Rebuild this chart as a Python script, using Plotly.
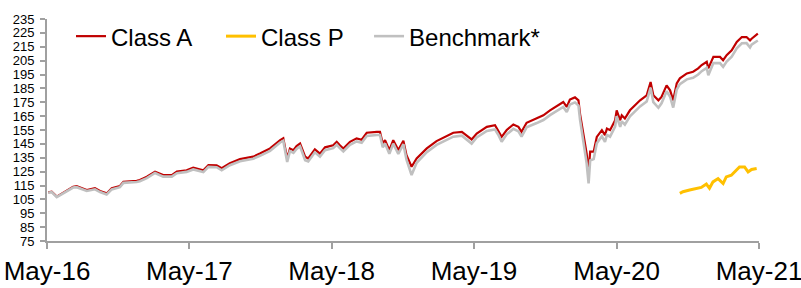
import plotly.graph_objects as go

dates_main = [
    "2016-05-04", "2016-05-13", "2016-05-26", "2016-06-16", "2016-07-07", "2016-07-16",
    "2016-08-11", "2016-09-01", "2016-09-14", "2016-10-01", "2016-10-14", "2016-11-04",
    "2016-11-13", "2016-12-17", "2016-12-25", "2017-01-12", "2017-02-02", "2017-02-23",
    "2017-03-17", "2017-03-30", "2017-04-24", "2017-05-11", "2017-06-06", "2017-06-19",
    "2017-07-10", "2017-07-23", "2017-08-13", "2017-09-08", "2017-10-12", "2017-10-29",
    "2017-11-24", "2017-12-20", "2017-12-28", "2018-01-07", "2018-01-14", "2018-01-23",
    "2018-01-31", "2018-02-09", "2018-02-22", "2018-03-02", "2018-03-19", "2018-04-01",
    "2018-04-14", "2018-05-05", "2018-05-14", "2018-05-22", "2018-05-31", "2018-06-17",
    "2018-07-04", "2018-07-17", "2018-07-30", "2018-08-25", "2018-09-02", "2018-09-09",
    "2018-09-15", "2018-09-26", "2018-10-06", "2018-10-19", "2018-11-01", "2018-11-09",
    "2018-11-22", "2018-12-05", "2018-12-31", "2019-01-25", "2019-02-20", "2019-03-09",
    "2019-03-31", "2019-04-12", "2019-04-25", "2019-05-08", "2019-06-03", "2019-06-24",
    "2019-07-02", "2019-07-11", "2019-07-24", "2019-08-10", "2019-08-23", "2019-08-31",
    "2019-09-13", "2019-10-09", "2019-10-26", "2019-11-12", "2019-12-03", "2019-12-16",
    "2019-12-25", "2020-01-02", "2020-01-15", "2020-01-24", "2020-01-28", "2020-02-06",
    "2020-02-14", "2020-02-19", "2020-02-23", "2020-03-03", "2020-03-11", "2020-03-24",
    "2020-04-01", "2020-04-06", "2020-04-14", "2020-04-27", "2020-05-01", "2020-05-10",
    "2020-05-14", "2020-05-22", "2020-06-04", "2020-06-30", "2020-07-17", "2020-07-27",
    "2020-08-03", "2020-08-16", "2020-08-24", "2020-09-06", "2020-09-15", "2020-09-23",
    "2020-10-02", "2020-10-10", "2020-10-28", "2020-11-13", "2020-11-26", "2020-12-05",
    "2020-12-18", "2020-12-22", "2021-01-04", "2021-01-21", "2021-01-29", "2021-02-07",
    "2021-02-20", "2021-03-05", "2021-03-18", "2021-03-30", "2021-04-08", "2021-04-12",
    "2021-04-21", "2021-04-28",
]

class_a = [
    110, 110.5, 107, 110.5, 114, 114.5,
    111.7, 113, 111, 109.3, 113, 114.6,
    117.7, 118.4, 119, 121.3, 125, 122.5,
    122.5, 125, 126, 127.8, 126, 129.7,
    129.5, 127.4, 131, 134, 135.8, 138,
    141.7, 147.7, 149, 134.5, 141.7, 140.5,
    143.4, 145.3, 135.8, 134.5, 141, 138,
    142.5, 144, 146.5, 144, 141.7, 146.5,
    149, 148, 153, 153.7, 153.7, 145.3,
    147.7, 140.5, 147.7, 140.5, 147.2, 136.9,
    128.5, 134.5, 141.7, 147, 150.5, 153,
    153.7, 151.3, 148.2, 152.5, 157.3, 158.5,
    155, 150.1, 155, 159, 157.3, 153.7,
    160.2, 163.4, 165.6, 169.2, 172.8, 175.2,
    171.6, 177, 178.5, 176.4, 166.5, 152.5,
    138, 125, 139.4, 139.4, 150, 154.9,
    151.3, 156, 154.9, 162, 169.2, 162,
    165.6, 163.3, 169.2, 176.4, 180, 189.6,
    180, 176.4, 178.8, 187.2, 183.6, 176.4,
    188.6, 192.2, 195.8, 197, 199.4, 201.8,
    204.2, 199.4, 207.7, 207.7, 205.3, 208.9,
    212.4, 218.4, 222, 222, 219.6, 220.8,
    222.7, 224.5,
]

benchmark = [
    109.8, 110.2, 106.6, 110, 113.5, 113.8,
    111.1, 112.3, 110.3, 108.6, 112.2, 113.8,
    116.9, 117.5, 118.1, 120.3, 124, 121.4,
    121.4, 123.9, 124.8, 126.6, 124.7, 128.4,
    128.2, 126, 129.6, 132.5, 134.3, 136.4,
    140, 146, 147.3, 132, 139.8, 138.5,
    141.4, 143.3, 133.2, 132.3, 138.9, 135.8,
    140.4, 141.9, 144.4, 141.9, 139.5, 144.3,
    146.8, 145.8, 150.7, 151.4, 151.4, 142.5,
    145.3, 137.8, 145.2, 137.7, 144.8, 133.6,
    122.5, 131.4, 139, 144.3, 147.8, 150.2,
    150.9, 148.4, 145.2, 149.6, 154.3, 155.4,
    151.8, 146.5, 151.9, 155.8, 154, 150.2,
    156.9, 160, 162.2, 165.7, 169.3, 171.6,
    168, 173.4, 174.9, 172.6, 162.5, 147.5,
    131, 116.5, 133, 134, 145.5, 150.5,
    146.5, 151.5, 150.2, 157.5, 165, 157.2,
    161.2, 158.8, 164.8, 172, 175.6, 185.5,
    175, 171, 174.2, 183, 179, 171.2,
    184.2, 188, 191.5, 192.6, 195, 197.4,
    199.8, 194.5, 203.3, 203.2, 200.5, 204.3,
    207.8, 213.8, 217.5, 217.6, 214.5, 216.5,
    218.4, 219.5,
]

dates_p = [
    "2020-10-10", "2020-10-18", "2020-11-04", "2020-11-21", "2020-12-04", "2020-12-17",
    "2020-12-25", "2021-01-03", "2021-01-16", "2021-01-29", "2021-02-06", "2021-02-19",
    "2021-02-28", "2021-03-12", "2021-03-25", "2021-04-03", "2021-04-12", "2021-04-25",
]
class_p = [
    109.3, 110.5, 111.7, 112.9, 113.6, 116,
    113, 117.6, 120, 116.4, 121.2, 122.4,
    124.8, 128.4, 128.4, 124.8, 126.6, 127.3,
]

x_ticks = ["2016-05-01", "2017-05-01", "2018-05-01", "2019-05-01", "2020-05-01", "2021-05-01"]
x_tick_labels = ["May-16", "May-17", "May-18", "May-19", "May-20", "May-21"]
y_ticks = list(range(75, 236, 10))

fig = go.Figure()
fig.add_trace(go.Scatter(x=dates_main, y=class_a, name="Class A", mode="lines",
                         legend="legend",
                         line=dict(color="#C00000", width=2.2)))
fig.add_trace(go.Scatter(x=dates_p, y=class_p, name="Class P", mode="lines",
                         legend="legend2",
                         line=dict(color="#FFC000", width=3)))
fig.add_trace(go.Scatter(x=dates_main, y=benchmark, name="Benchmark*", mode="lines",
                         legend="legend3",
                         line=dict(color="#C0C0C0", width=2.6)))

axis_col = "#A0A0A0"
leg_font = dict(size=24, family="Liberation Sans, Arial, sans-serif", color="black")


def leg(xpos):
    return dict(orientation="h", x=xpos, xanchor="left", y=0.921, yanchor="middle",
                font=leg_font, bgcolor="rgba(0,0,0,0)")


fig.update_layout(
    width=801, height=288,
    margin=dict(l=47, r=42, t=19, b=47, pad=0),
    paper_bgcolor="white", plot_bgcolor="white",
    font=dict(family="Liberation Sans, Arial, sans-serif", color="black"),
    showlegend=True,
    legend=leg(0.0337),
    legend2=leg(0.2444),
    legend3=leg(0.4523),
    xaxis=dict(type="date", range=["2016-05-01", "2021-05-01"],
               tickvals=x_ticks, ticktext=x_tick_labels, automargin=False,
               ticklabeloverflow="allow",
               showgrid=False, zeroline=False,
               showline=True, linecolor=axis_col, linewidth=2,
               ticks="outside", ticklen=6, tickwidth=1.5, tickcolor=axis_col,
               tickfont=dict(size=26, family="Liberation Sans, Arial, sans-serif")),
    yaxis=dict(range=[75, 235], tickvals=y_ticks, automargin=False,
               showgrid=False, zeroline=False,
               showline=True, linecolor=axis_col, linewidth=2,
               ticks="outside", ticklen=5, tickwidth=1.5, tickcolor=axis_col,
               ticklabelstandoff=3,
               tickfont=dict(size=13, family="Liberation Sans Narrow, Arial Narrow, Liberation Sans, sans-serif")),
)

fig.write_html("out.html", config={"displayModeBar": False},
               post_script="document.body.style.margin='0';")
